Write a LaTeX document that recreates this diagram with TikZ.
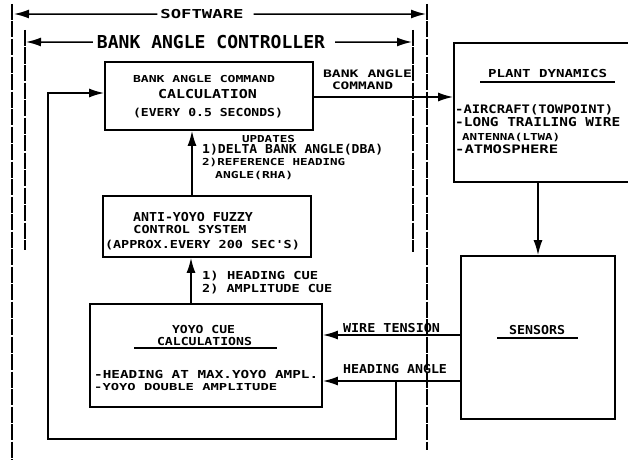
\documentclass[tikz,border=0pt]{standalone}
\usepackage{graphicx}
\usepackage{fontspec}
\newfontfamily\lettr{DejaVu Sans Mono}
\usetikzlibrary{arrows.meta}
\newcommand\tx[3]{\resizebox{#1pt}{\height}{\fontsize{#2pt}{#2pt}\selectfont #3}}
\begin{document}
\begin{tikzpicture}[x=1pt,y=-1pt,
  txt/.style={inner sep=0pt,font=\lettr\bfseries},
  blk/.style={draw,line width=1.8pt,inner sep=0pt},
  conn/.style={line width=1.5pt},
  arr/.style={conn,-{Latex[length=15pt,width=9pt]}},
  bound/.style={line width=1.2pt,dash pattern=on 16pt off 1.5pt},
  uline/.style={line width=1.2pt}]
\useasboundingbox (0,0) rectangle (628,460);
\clip (0,0) rectangle (628,460);
% software / controller boundaries
\draw[bound] (12,4) -- (12,460);
\draw[bound] (427,4) -- (427,450);
\draw[bound] (25,30) -- (25,250);
\draw[bound] (413,30) -- (413,252);
\node[txt,anchor=base] (sw) at (202,18.5) {\tx{83}{12.3}{SOFTWARE}};
\draw[arr] ([xshift=-3pt]sw.west) -- (14,14);
\draw[arr] ([xshift=10pt]sw.east) -- (426,14);
\node[txt,anchor=base] (bc) at (211,48.5) {\tx{228}{17.8}{BANK ANGLE CONTROLLER}};
\draw[arr] ([xshift=-4pt]bc.west) -- (26,42);
\draw[arr] ([xshift=10pt]bc.east) -- (412,42);
% blocks
\node[blk,minimum width=208pt,minimum height=68pt] (bac) at (209,96) {};
\node[blk,minimum width=208pt,minimum height=61pt] (ay) at (207,226.5) {};
\node[blk,minimum width=232pt,minimum height=103pt] (yc) at (206,355.5) {};
\node[blk,minimum width=200pt,minimum height=139pt] (plant) at (554,112.5) {};
\node[blk,minimum width=154pt,minimum height=163pt] (sens) at (538,337.5) {};
% block texts
\node[txt,anchor=base] (b1) at (204,82.5) {\tx{142}{9.6}{BANK ANGLE COMMAND}};
\node[txt,anchor=base] (b2) at (207.5,98.5) {\tx{99}{12.3}{CALCULATION}};
\node[txt,anchor=base] (b3) at (208,116) {\tx{150}{11}{(EVERY 0.5 SECONDS)}};
\node[txt,anchor=base] (a1) at (193,221.5) {\tx{120}{12.3}{ANTI-YOYO FUZZY}};
\node[txt,anchor=base] (a2) at (190,233) {\tx{113}{11}{CONTROL SYSTEM}};
\node[txt,anchor=base] (a3) at (202.5,248) {\tx{195}{11}{(APPROX.EVERY 200 SEC'S)}};
\node[txt,anchor=base] (y1) at (203.5,333) {\tx{63}{11}{YOYO CUE}};
\node[txt,anchor=base] (y2) at (204.5,345.5) {\tx{95}{11}{CALCULATIONS}};
\draw[uline] (134,348) -- (277,348);
\node[txt,anchor=base west] (y3) at (94,378) {\tx{224}{11}{-HEADING AT MAX.YOYO AMPL.}};
\node[txt,anchor=base west] (y4) at (94,390.5) {\tx{183}{9.6}{-YOYO DOUBLE AMPLITUDE}};
\node[txt,anchor=base] (p1) at (547.5,77) {\tx{119}{11}{PLANT DYNAMICS}};
\draw[uline] (480,82) -- (615,82);
\node[txt,anchor=base west] (p2) at (455,113) {\tx{158}{11.7}{-AIRCRAFT(TOWPOINT)}};
\node[txt,anchor=base west] (p3) at (455,126.5) {\tx{165}{12.3}{-LONG TRAILING WIRE}};
\node[txt,anchor=base west] (p4) at (462,140.5) {\tx{98}{9.6}{ANTENNA(LTWA)}};
\node[txt,anchor=base west] (p5) at (455,153) {\tx{103}{11.7}{-ATMOSPHERE}};
\node[txt,anchor=base] (s1) at (537,334) {\tx{56}{12.3}{SENSORS}};
\draw[uline] (497,338) -- (578,338);
% connector labels
\node[txt,anchor=base] (l1) at (367.5,77.8) {\tx{89}{10.3}{BANK ANGLE}};
\node[txt,anchor=base] (l2) at (362.5,89.3) {\tx{61}{10.3}{COMMAND}};
\node[txt,anchor=base] (u0) at (268.5,142.5) {\tx{53}{9.6}{UPDATES}};
\node[txt,anchor=base west] (u1) at (202,153.5) {\tx{181}{12.3}{1)DELTA BANK ANGLE(DBA)}};
\node[txt,anchor=base west] (u2) at (202,165.5) {\tx{143}{9.6}{2)REFERENCE HEADING}};
\node[txt,anchor=base west] (u3) at (215,178.5) {\tx{78}{9.6}{ANGLE(RHA)}};
\node[txt,anchor=base west] (c1) at (202,279) {\tx{116}{11}{1) HEADING CUE}};
\node[txt,anchor=base west] (c2) at (202,292) {\tx{130}{11}{2) AMPLITUDE CUE}};
\node[txt,anchor=base] (w1) at (391.5,332) {\tx{97}{12.3}{WIRE TENSION}};
\node[txt,anchor=base] (h1) at (395,373) {\tx{104}{12.3}{HEADING ANGLE}};
% connectors
\coordinate (v1) at (191,0);
\coordinate (v2) at (192,0);
\coordinate (wt) at (0,335);
\coordinate (ha) at (396,381);
\coordinate (lc) at (48,439);
\draw[arr] ([yshift=-1pt]bac.east) -- ([yshift=-1pt]bac.east -| plant.west);
\draw[arr] (plant.south -| sens.north) -- (sens.north);
\draw[arr] (sens.west |- wt) -- (yc.east |- wt);
\draw[arr] (sens.west |- ha) -- (yc.east |- ha);
\draw[arr] (ha) |- (lc) |- ([yshift=3pt]bac.west);
\draw[arr] (yc.north -| v1) -- (ay.south -| v1);
\draw[arr] (ay.north -| v2) -- (bac.south -| v2);
\end{tikzpicture}
\end{document}
